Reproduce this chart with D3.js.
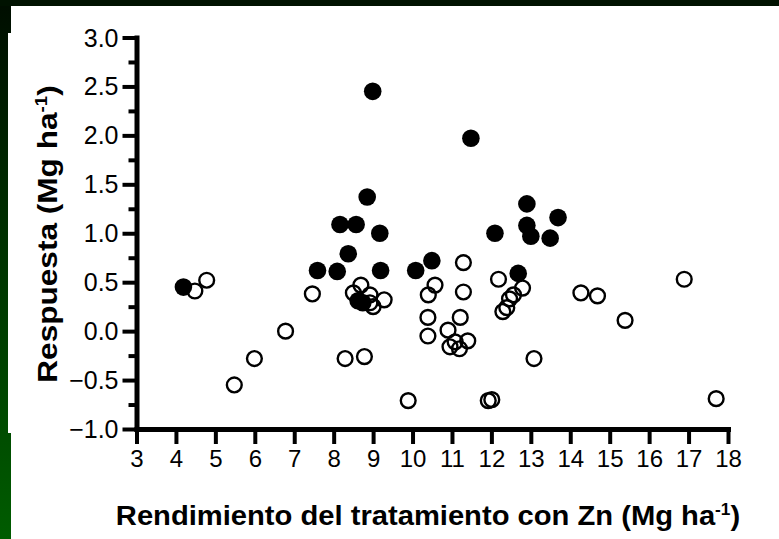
<!DOCTYPE html>
<html><head><meta charset="utf-8">
<script src="https://cdn.jsdelivr.net/npm/d3@7"></script>
<style>html,body{margin:0;padding:0;background:#fff;overflow:hidden}</style>
</head><body>
<svg id="c" width="779" height="539"></svg>
<script>
// Data
const filledX = [4.19, 7.59, 8.09, 8.16, 8.37, 8.57, 8.85, 8.99, 9.17, 9.19, 8.62, 8.74, 10.08, 10.49, 11.48, 12.09, 12.68, 12.90, 12.90, 13.00, 13.49, 13.69];
const filledY = [0.45, 0.62, 0.61, 1.09, 0.79, 1.09, 1.37, 2.45, 1.00, 0.62, 0.31, 0.29, 0.62, 0.72, 1.97, 1.00, 0.59, 1.30, 1.08, 0.97, 0.95, 1.16];
const openX = [4.48, 4.78, 5.48, 5.99, 6.78, 7.46, 8.29, 8.50, 8.69, 8.78, 8.92, 8.92, 9.00, 9.28, 9.89, 10.39, 10.39, 10.40, 10.57, 10.90, 10.95, 11.08, 11.19, 11.21, 11.29, 11.29, 11.40, 11.92, 12.01, 12.18, 12.29, 12.39, 12.46, 12.56, 12.79, 13.08, 14.27, 14.69, 15.39, 16.89, 17.70];
const openY = [0.41, 0.52, -0.55, -0.28, 0.00, 0.38, -0.28, 0.39, 0.47, -0.26, 0.37, 0.29, 0.25, 0.32, -0.71, 0.14, -0.05, 0.37, 0.47, 0.01, -0.16, -0.11, -0.18, 0.14, 0.70, 0.40, -0.10, -0.71, -0.70, 0.53, 0.20, 0.24, 0.33, 0.37, 0.44, -0.28, 0.39, 0.36, 0.11, 0.53, -0.69];
const xTicks = [3,4,5,6,7,8,9,10,11,12,13,14,15,16,17,18];
const yTicks = [-1.0,-0.5,0.0,0.5,1.0,1.5,2.0,2.5,3.0];
const yMinorTicks = [-0.75,-0.25,0.25,0.75,1.25,1.75,2.25,2.75];
const xTitle = "Rendimiento del tratamiento con Zn (Mg ha";
const yTitle = "Respuesta (Mg ha";

const svg = d3.select("#c");
const FONT = "'Liberation Sans', Arial, sans-serif";

// background decoration
const defs = svg.append("defs");
const g1 = defs.append("linearGradient").attr("id","lg").attr("x1",0).attr("y1",0).attr("x2",0).attr("y2",1);
g1.append("stop").attr("offset",0).attr("stop-color","#000d00");
g1.append("stop").attr("offset",0.35).attr("stop-color","#002a00");
g1.append("stop").attr("offset",1).attr("stop-color","#005c00");
svg.append("rect").attr("x",0).attr("y",0).attr("width",779).attr("height",539).attr("fill","#fff");
svg.append("path").attr("d","M0,0H11V33H8V433H11V539H0Z").attr("fill","url(#lg)");
svg.append("rect").attr("x",0).attr("y",0).attr("width",779).attr("height",6).attr("fill","#001200");

const x = d3.scaleLinear().domain([3,18]).range([136.5,728]);
const y = d3.scaleLinear().domain([-1,3]).range([429,37.5]);

const yMinor = svg.append("g").attr("transform","translate(136.5,0)")
  .call(d3.axisLeft(y).tickValues(yMinorTicks).tickSize(8).tickSizeOuter(0).tickFormat(""));
const yAx = svg.append("g").attr("transform","translate(136.5,0)")
  .call(d3.axisLeft(y).tickValues(yTicks).tickSize(14).tickSizeOuter(0).tickPadding(4).tickFormat(d3.format(".1f")));
const xAx = svg.append("g").attr("transform","translate(0,429)")
  .call(d3.axisBottom(x).tickValues(xTicks).tickSize(15).tickSizeOuter(0).tickPadding(6).tickFormat(d3.format("d")));

[yMinor,yAx,xAx].forEach(g=>{
  g.attr("font-family",FONT).attr("font-size",24);
  g.selectAll(".tick line").attr("stroke","#000").attr("stroke-width",4);
  g.select(".domain").attr("stroke","#000").attr("stroke-width",5).attr("stroke-linecap","square");
  g.selectAll("text").attr("fill","#000");
});
yMinor.select(".domain").remove();
yAx.attr("font-size",25);
yAx.selectAll("text").attr("dy","0.34em");
xAx.selectAll("text").attr("dy","0.72em");

svg.append("g").selectAll("circle").data(openX.map((v,i)=>[v,openY[i]])).join("circle")
  .attr("cx",d=>x(d[0])).attr("cy",d=>y(d[1])).attr("r",7.4)
  .attr("fill","none").attr("stroke","#000").attr("stroke-width",2.4);
svg.append("g").selectAll("circle").data(filledX.map((v,i)=>[v,filledY[i]])).join("circle")
  .attr("cx",d=>x(d[0])).attr("cy",d=>y(d[1])).attr("r",8.8).attr("fill","#000");

const xt = svg.append("text").attr("transform","translate(428,525) scale(1.08,1)").attr("text-anchor","middle")
  .attr("font-family",FONT).attr("font-size",27).attr("font-weight","bold").attr("fill","#000");
xt.append("tspan").text(xTitle);
xt.append("tspan").attr("dy",-10).attr("font-size",16).text("-1");
xt.append("tspan").attr("dy",10).text(")");

const yt = svg.append("text").attr("transform","translate(57,234) rotate(-90) scale(1.17,1)").attr("text-anchor","middle")
  .attr("font-family",FONT).attr("font-size",27).attr("font-weight","bold").attr("fill","#000");
yt.append("tspan").text(yTitle);
yt.append("tspan").attr("dy",-10).attr("font-size",16).text("-1");
yt.append("tspan").attr("dy",10).text(")");
</script>
</body></html>
